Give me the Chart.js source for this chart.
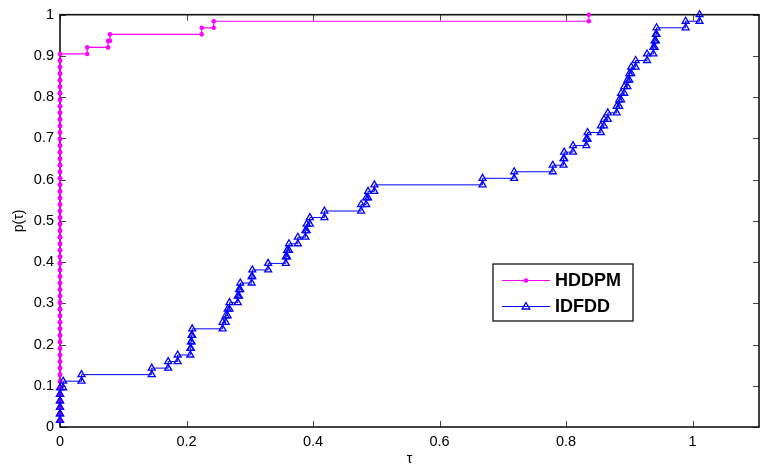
<!DOCTYPE html>
<html>
<head>
<meta charset="utf-8">
<script src="https://cdn.jsdelivr.net/npm/chart.js@4.4.0/dist/chart.umd.min.js"></script>
<style>
    body { margin: 0; background: #fff; }
    canvas { display: block; }
</style>
</head>
<body>
<canvas id="profileChart" width="767" height="468"></canvas>
<script>
// Performance ratios (log scale) per problem, sorted
const hddpmRatios = [
    0, 0, 0, 0, 0, 0, 0, 0, 0, 0, 0, 0, 0, 0, 0, 0, 0, 0, 0, 0,
    0, 0, 0, 0, 0, 0, 0, 0, 0, 0, 0, 0, 0, 0, 0, 0, 0, 0, 0, 0,
    0, 0, 0, 0, 0, 0, 0, 0, 0, 0, 0, 0, 0, 0, 0, 0, 0,
    0.043, 0.076, 0.079, 0.224, 0.243, 0.836
];
const idfddRatios = [
    0, 0, 0, 0, 0, 0, 0.005, 0.034, 0.145, 0.171,
    0.186, 0.206, 0.207, 0.208, 0.209, 0.257, 0.262, 0.265, 0.268, 0.281,
    0.283, 0.285, 0.303, 0.304, 0.329, 0.357, 0.359, 0.362, 0.376, 0.388,
    0.390, 0.395, 0.418, 0.476, 0.484, 0.487, 0.497, 0.668, 0.718, 0.779,
    0.796, 0.797, 0.811, 0.832, 0.834, 0.855, 0.860, 0.866, 0.880, 0.884,
    0.887, 0.892, 0.897, 0.900, 0.903, 0.910, 0.928, 0.938, 0.940, 0.942,
    0.943, 0.989, 1.011
];
const seriesNames = ['HDDPM', 'IDFDD'];
const seriesColors = ['#ff00ff', '#0000ff'];

const xTicks = [0, 0.2, 0.4, 0.6, 0.8, 1];
const xTickLabels = ['0', '0.2', '0.4', '0.6', '0.8', '1'];
const yTicks = [0, 0.1, 0.2, 0.3, 0.4, 0.5, 0.6, 0.7, 0.8, 0.9, 1];
const yTickLabels = ['0', '0.1', '0.2', '0.3', '0.4', '0.5', '0.6', '0.7', '0.8', '0.9', '1'];
const xMax = 1.105;

const FONT = "'Liberation Sans', Arial, sans-serif";

// stairs: corner points of the profile, p = share of problems with ratio <= tau
function stairs(ratios) {
    const n = ratios.length;
    const pts = [];
    ratios.forEach((t, i) => {
        if (i > 0) pts.push({ x: t, y: i / n });
        pts.push({ x: t, y: (i + 1) / n });
    });
    return pts;
}

// frame box with inward ticks on all four sides
const frameAndTicks = {
    id: 'frameAndTicks',
    beforeDatasetsDraw(chart) {
        const { ctx, chartArea: a, scales: { x, y } } = chart;
        ctx.save();
        ctx.strokeStyle = '#444';
        ctx.lineWidth = 1;
        ctx.beginPath();
        xTicks.forEach(v => {
            const px = Math.round(x.getPixelForValue(v)) + 0.5;
            ctx.moveTo(px, a.bottom); ctx.lineTo(px, a.bottom - 6);
            ctx.moveTo(px, a.top); ctx.lineTo(px, a.top + 6);
        });
        yTicks.forEach(v => {
            const py = Math.round(y.getPixelForValue(v)) + 0.5;
            ctx.moveTo(a.left, py); ctx.lineTo(a.left + 6, py);
            ctx.moveTo(a.right, py); ctx.lineTo(a.right - 6, py);
        });
        ctx.stroke();
        ctx.strokeStyle = '#111';
        ctx.lineWidth = 1.6;
        ctx.strokeRect(a.left, a.top, a.right - a.left, a.bottom - a.top);
        ctx.restore();
    }
};

// boxed legend inside the plot area
const boxLegend = {
    id: 'boxLegend',
    afterDraw(chart) {
        const { ctx } = chart;
        ctx.save();
        ctx.fillStyle = '#fff';
        ctx.fillRect(493, 264, 140, 57);
        ctx.strokeStyle = '#111';
        ctx.lineWidth = 1.3;
        ctx.strokeRect(493, 264, 140, 57);
        const rows = [280, 306];
        seriesNames.forEach((name, i) => {
            const yy = rows[i];
            ctx.strokeStyle = seriesColors[i];
            ctx.lineWidth = 1;
            ctx.beginPath();
            ctx.moveTo(502, yy + 0.5);
            ctx.lineTo(550, yy + 0.5);
            ctx.stroke();
            ctx.beginPath();
            if (i === 0) {
                ctx.fillStyle = seriesColors[i];
                ctx.arc(526, yy + 0.5, 2.3, 0, Math.PI * 2);
                ctx.fill();
            } else {
                ctx.lineWidth = 1.3;
                ctx.moveTo(526, yy - 3.5);
                ctx.lineTo(529.8, yy + 3);
                ctx.lineTo(522.2, yy + 3);
                ctx.closePath();
                ctx.stroke();
            }
            ctx.fillStyle = '#000';
            ctx.font = 'bold 18px ' + FONT;
            ctx.textBaseline = 'middle';
            ctx.fillText(name, 555, yy + 1);
        });
        ctx.restore();
    }
};

const ctx = document.getElementById('profileChart').getContext('2d');
new Chart(ctx, {
    type: 'scatter',
    data: {
        datasets: [
            {
                label: seriesNames[0],
                data: stairs(hddpmRatios),
                showLine: true,
                borderColor: seriesColors[0],
                backgroundColor: seriesColors[0],
                borderWidth: 1.2,
                pointStyle: 'circle',
                pointRadius: 2.3,
                pointBorderWidth: 0,
                clip: false,
                order: 2
            },
            {
                label: seriesNames[1],
                data: stairs(idfddRatios),
                showLine: true,
                borderColor: seriesColors[1],
                backgroundColor: 'rgba(0,0,0,0)',
                borderWidth: 1,
                pointStyle: 'triangle',
                pointRadius: 4,
                pointBorderColor: seriesColors[1],
                pointBorderWidth: 1.3,
                clip: false,
                order: 1
            }
        ]
    },
    options: {
        responsive: false,
        animation: false,
        layout: { padding: { top: 13, right: 8, left: 0, bottom: 0 } },
        plugins: { legend: { display: false }, tooltip: { enabled: false } },
        scales: {
            x: {
                type: 'linear',
                min: 0,
                max: xMax,
                afterBuildTicks: s => { s.ticks = xTicks.map(v => ({ value: v })); },
                afterFit: s => { s.height = 41; },
                grid: { display: false, drawTicks: false },
                border: { display: false },
                ticks: {
                    padding: 6,
                    color: '#000',
                    font: { family: FONT, size: 14.5 },
                    maxRotation: 0,
                    callback: (v, i) => xTickLabels[i]
                },
                title: {
                    display: true,
                    text: 'τ',
                    color: '#000',
                    font: { family: FONT, size: 14 },
                    padding: 0
                }
            },
            y: {
                min: 0,
                max: 1,
                afterBuildTicks: s => { s.ticks = yTicks.map(v => ({ value: v })); },
                afterFit: s => { s.width = 60; },
                grid: { display: false, drawTicks: false },
                border: { display: false },
                ticks: {
                    padding: 6,
                    color: '#000',
                    font: { family: FONT, size: 14.5 },
                    callback: (v, i) => yTickLabels[i]
                },
                title: {
                    display: true,
                    text: 'p(τ)',
                    color: '#000',
                    font: { family: FONT, size: 14 },
                    padding: { top: 11, bottom: 0 }
                }
            }
        }
    },
    plugins: [frameAndTicks, boxLegend]
});
</script>
</body>
</html>
